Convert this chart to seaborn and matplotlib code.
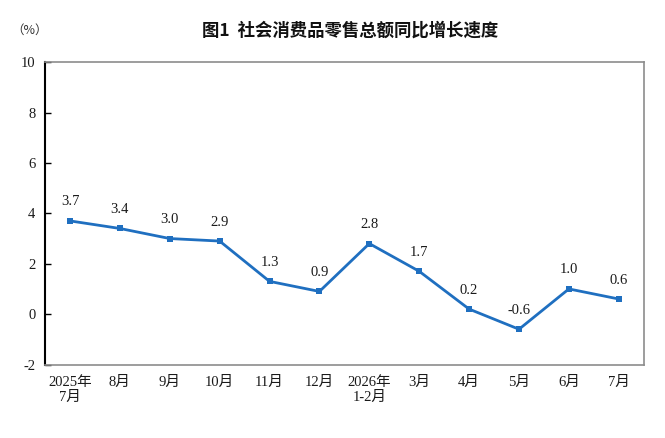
import matplotlib
matplotlib.use("Agg")
import matplotlib.pyplot as plt
import seaborn as sns
import pandas as pd

categories = ["2025年\n7月", "8月", "9月", "10月", "11月", "12月", "2026年\n1-2月",
              "3月", "4月", "5月", "6月", "7月"]
values = [3.7, 3.4, 3.0, 2.9, 1.3, 0.9, 2.8, 1.7, 0.2, -0.6, 1.0, 0.6]
y_ticks = [-2, 0, 2, 4, 6, 8, 10]
title = "图1  社会消费品零售总额同比增长速度"
unit = "（%）"

sns.set_theme(style="white")
plt.rcParams['font.family'] = ['Liberation Serif', 'Noto Sans CJK SC', 'DejaVu Sans']

df = pd.DataFrame({"x": range(len(values)), "v": values})

fig = plt.figure(figsize=(6.65, 4.38), dpi=100)
ax = fig.add_axes([0.0677, 0.1678, 0.9003, 0.6902])
color = "#1f6fc0"
sns.lineplot(data=df, x="x", y="v", ax=ax, color=color, linewidth=2.0,
             marker="s", markersize=5, markeredgewidth=0)

for i, v in enumerate(values):
    ax.annotate(f"{v:.1f}", (i, v), xytext=(0, 9), textcoords="offset points",
                ha="center", va="bottom", fontsize=10.5, color="#1a1a1a")

ax.set_xlim(-0.5, len(values) - 0.5)
ax.set_ylim(-2, 10)
ax.set_yticks(y_ticks)
ax.set_yticklabels([str(t) for t in y_ticks], fontsize=10.5, color="#1a1a1a")
ax.set_xticks(range(len(values)))
ax.set_xticklabels(categories, fontsize=10.5, color="#1a1a1a", linespacing=1.25)
ax.set_xlabel("")
ax.set_ylabel("")
ax.tick_params(axis="y", direction="in", length=4, width=1, color="black", pad=7, left=True)
ax.tick_params(axis="x", length=0, pad=8)

for s in ["top", "right", "bottom"]:
    ax.spines[s].set_color("#8c8c8c")
    ax.spines[s].set_linewidth(1.2)
ax.spines["left"].set_color("black")
ax.spines["left"].set_linewidth(1.5)

fig.text(0.527, 0.93, title, ha="center", va="center", fontsize=12.5,
         fontweight="bold", family=['Noto Sans CJK SC', 'DejaVu Sans'], color="#111111")
fig.text(0.045, 0.93, unit, ha="center", va="center", fontsize=9,
         family=['Noto Sans CJK SC', 'DejaVu Sans'], color="#333333")

fig.savefig("out.png", dpi=100)
